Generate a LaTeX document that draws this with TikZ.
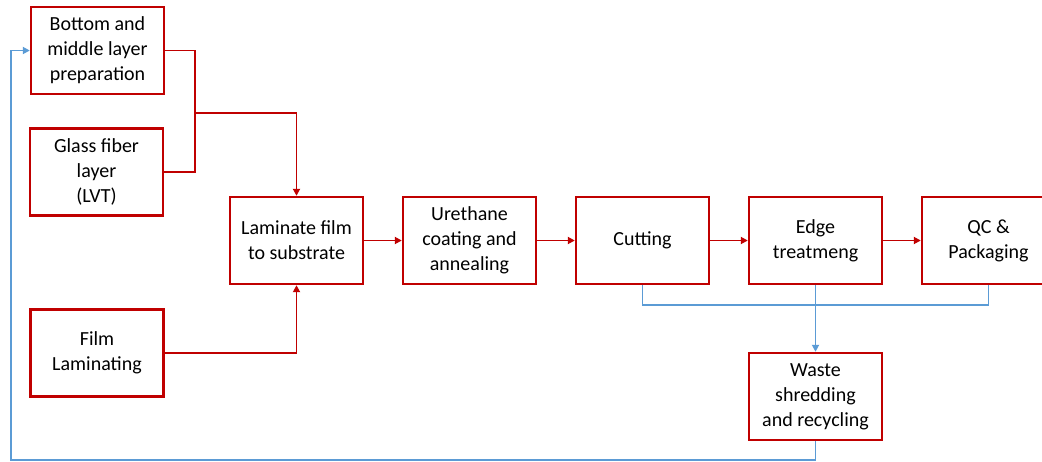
\documentclass[tikz,border=0pt]{standalone}
\usepackage{fontspec}
\setmainfont{Carlito}
\usetikzlibrary{arrows.meta}
\usetikzlibrary{positioning}
\definecolor{boxred}{RGB}{192,0,0}
\definecolor{wasteblue}{RGB}{91,155,213}
\tikzset {
  % process step box
  stage/.style = {
    draw = boxred,
    line width = 2.4pt,
    rectangle,
    minimum width = 133pt,
    minimum height = 87pt,
    inner sep = 0,
    align = center,
    font = \fontsize{20}{25}\selectfont
  },
  node distance = 66.6pt and 37.6pt
}
\tikzset {
  line path/.style = {
    line width = 1.8pt
  },
  % main product flow
  flow/.style = {
    line path,
    draw = boxred,
    -{Triangle[length=7pt,width=7pt]}
  },
  % flow with no arrow
  nflow/.style = {
    line path,
    draw = boxred
  },
  % scrap flow
  scrap/.style = {
    line path,
    draw = wasteblue,
    -{Triangle[length=7pt,width=7pt]}
  },
  nscrap/.style = {
    line path,
    draw = wasteblue
  }
}

\begin{document}
\begin{tikzpicture}[x=1pt, y=-1pt]
    \useasboundingbox (0,0) rectangle (1042,461);

    \node[stage] (bottom) at (97.5,50.5) {Bottom and\\middle layer\\preparation};
    \node[stage] (glass) at (96.5,172) {Glass fiber\\layer\\(LVT)};
    \node[stage] (film) at (97,353) {Film\\Laminating};
    \node[stage] (laminate) at (296.5,240.5) {Laminate film\\to substrate};
    \node[stage] (urethane) [right=of laminate] {Urethane\\coating and\\annealing};
    \node[stage] (cutting) [right=of urethane] {Cutting};
    \node[stage] (edge) [right=of cutting] {Edge\\treatmeng};
    \node[stage] (qc) [right=of edge] {QC \&\\Packaging};
    \node[stage] (waste) [below=of edge] {Waste\\shredding\\and recycling};
    \coordinate (merge) at (195,113);
    \coordinate [below=20pt of edge.south] (collect);
    \coordinate (return) at (11,460);

    \draw[nflow] (bottom) -| (merge);
    \draw[nflow] (glass) -| (merge);
    \draw[flow] (merge) -| (laminate);
    \draw[flow] (film) -| (laminate);
    \draw[flow] (laminate) -- (urethane);
    \draw[flow] (urethane) -- (cutting);
    \draw[flow] (cutting) -- (edge);
    \draw[flow] (edge) -- (qc);

    \draw[nscrap] (cutting) |- (collect) -| (qc);
    \draw[scrap] (edge) -- (waste);
    \draw[scrap] (waste) |- (return) |- (bottom);
\end{tikzpicture}
\end{document}
